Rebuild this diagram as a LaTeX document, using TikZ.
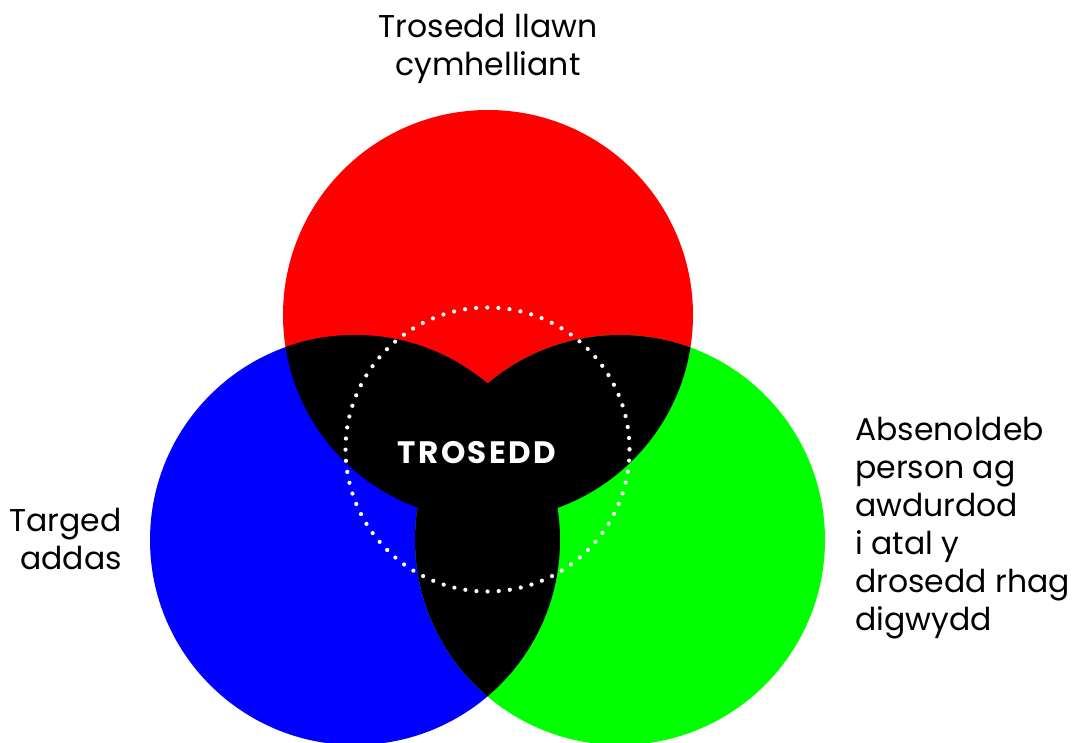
\documentclass[tikz,border=0pt]{standalone}
\usepackage{fontspec}
\setmainfont{Poppins}
\usepackage{xcolor}
\definecolor{vred}{rgb}{1,0,0}
\definecolor{vgreen}{rgb}{0,1,0}
\definecolor{vblue}{rgb}{0,0,1}
\usepackage{tikz}
\usetikzlibrary{calc}

\begin{document}
\begin{tikzpicture}
    [x=1pt, y=-1pt,
     label/.style={font=\fontsize{31.5}{38}\selectfont, inner sep=0pt}]
    \useasboundingbox (0,0) rectangle (1074,743);
    \clip (0,0) rectangle (1074,743);
    % circles
    \fill[vred] (488,315) circle(205);
    \fill[vblue] (355,540) circle(205);
    \fill[vgreen] (620,540) circle(205);
    % overlaps
    \begin{scope}
        \clip (488,315) circle(205);
        \fill[black] (355,540) circle(205);
        \fill[black] (620,540) circle(205);
    \end{scope}
    \begin{scope}
        \clip (355,540) circle(205);
        \fill[black] (620,540) circle(205);
    \end{scope}
    % dotted ring
    \draw[white, line width=4.2, line cap=round, dash pattern=on 0pt off 11.15pt]
        (487.5,449.5) circle(142);
    % text
    \node[label, text=white, font=\fontsize{31}{38}\selectfont\bfseries\addfontfeature{LetterSpace=8}] (crime) at (477,453) {TROSEDD};
    \node[label, align=center] (motive) at (488,49) {Trosedd llawn\\cymhelliant};
    \node[label, align=right, anchor=east] (target) at (122,539) {Targed\\addas};
    \node[label, align=left, anchor=west] (guardian) at (855,528) {Absenoldeb\\person ag\\awdurdod\\i atal y\\drosedd rhag\\digwydd};
\end{tikzpicture}
\end{document}
